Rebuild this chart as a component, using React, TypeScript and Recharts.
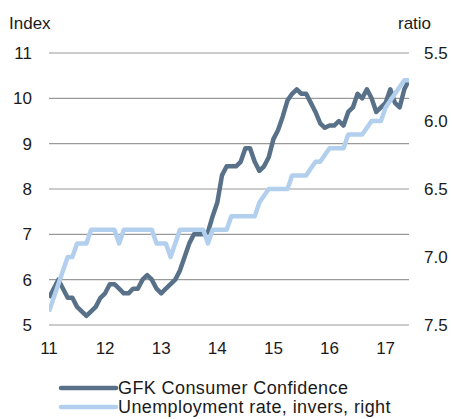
import React from "react";
import { LineChart, Line, XAxis, YAxis, CartesianGrid } from "recharts";

// Monthly observations, Jan 2011 .. Jun 2017
const startYear = 11;
const gfkConfidence = [
  5.6, 5.8, 6.0, 5.8, 5.6, 5.6, 5.4, 5.3, 5.2, 5.3, 5.4, 5.6,
  5.7, 5.9, 5.9, 5.8, 5.7, 5.7, 5.8, 5.8, 6.0, 6.1, 6.0, 5.8,
  5.7, 5.8, 5.9, 6.0, 6.2, 6.5, 6.8, 7.0, 7.0, 7.0, 7.05, 7.4,
  7.7, 8.3, 8.5, 8.5, 8.5, 8.6, 8.9, 8.9, 8.6, 8.4, 8.5, 8.7,
  9.1, 9.3, 9.6, 9.95, 10.1, 10.2, 10.1, 10.1, 9.9, 9.7, 9.45, 9.35,
  9.4, 9.4, 9.5, 9.4, 9.7, 9.8, 10.1, 10.0, 10.2, 10.0, 9.7, 9.8,
  9.9, 10.2, 9.9, 9.8, 10.2, 10.4,
];
const unemploymentRate = [
  7.4, 7.3, 7.2, 7.1, 7.0, 7.0, 6.9, 6.9, 6.9, 6.8, 6.8, 6.8,
  6.8, 6.8, 6.8, 6.9, 6.8, 6.8, 6.8, 6.8, 6.8, 6.8, 6.8, 6.9,
  6.9, 6.9, 7.0, 6.9, 6.8, 6.8, 6.8, 6.8, 6.8, 6.8, 6.9, 6.8,
  6.8, 6.8, 6.8, 6.7, 6.7, 6.7, 6.7, 6.7, 6.7, 6.6, 6.55, 6.5,
  6.5, 6.5, 6.5, 6.5, 6.4, 6.4, 6.4, 6.4, 6.35, 6.3, 6.3, 6.25,
  6.2, 6.2, 6.2, 6.2, 6.1, 6.1, 6.1, 6.1, 6.05, 6.0, 6.0, 6.0,
  5.9, 5.85, 5.8, 5.75, 5.7, 5.7,
];
const xTicks = [11, 12, 13, 14, 15, 16, 17];
const leftTicks = [5, 6, 7, 8, 9, 10, 11];
const rightTicks = [5.5, 6.0, 6.5, 7.0, 7.5];
const seriesNames = ["GFK Consumer Confidence", "Unemployment rate, invers, right"];
const leftTitle = "Index";
const rightTitle = "ratio";

const data = gfkConfidence.map((g, i) => ({
  t: startYear + i / 12,
  gfk: g,
  unemp: unemploymentRate[i],
}));

const DARK = "#587189";
const LIGHT = "#b2d0ee";
const FONT = "'Liberation Sans', Arial, sans-serif";
const TEXT = "#1a1a1a";

export default function App() {
  const tickStyle = { fontSize: 17, fill: TEXT, fontFamily: FONT };
  return (
    <div style={{ position: "absolute", left: 0, top: 0, width: 452, height: 419, background: "#fff" }}>
      <LineChart
        width={452}
        height={419}
        data={data}
        margin={{ top: 53, right: 0, left: 0, bottom: 64 }}
      >
        <CartesianGrid yAxisId="left" vertical={false} stroke="#9a9a9a" strokeWidth={1.2} />
        <XAxis
          dataKey="t"
          type="number"
          domain={[startYear, startYear + (gfkConfidence.length - 1) / 12]}
          ticks={xTicks}
          tickFormatter={(v: number) => String(Math.round(v))}
          axisLine={false}
          tickLine={false}
          tickSize={0}
          tickMargin={17}
          height={30}
          tick={tickStyle}
          interval={0}
          allowDataOverflow
        />
        <YAxis
          yAxisId="left"
          orientation="left"
          domain={[5, 11]}
          ticks={leftTicks}
          axisLine={false}
          tickLine={false}
          tickSize={0}
          tickMargin={17}
          width={49}
          tick={tickStyle}
          interval={0}
        />
        <YAxis
          yAxisId="right"
          orientation="right"
          domain={[5.5, 7.5]}
          reversed
          ticks={rightTicks}
          tickFormatter={(v: number) => v.toFixed(1)}
          axisLine={false}
          tickLine={false}
          tickSize={0}
          tickMargin={15}
          width={43}
          tick={{ ...tickStyle, textAnchor: "start" }}
          interval={0}
        />
        <Line
          yAxisId="left"
          dataKey="gfk"
          stroke={DARK}
          strokeWidth={4.5}
          dot={false}
          isAnimationActive={false}
          strokeLinejoin="round"
        />
        <Line
          yAxisId="right"
          dataKey="unemp"
          stroke={LIGHT}
          strokeWidth={4.5}
          dot={false}
          isAnimationActive={false}
          strokeLinejoin="round"
        />
      </LineChart>
      <svg
        width={452}
        height={419}
        style={{ position: "absolute", left: 0, top: 0, pointerEvents: "none" }}
      >
        <text x={9} y={29} fontSize={17} fill={TEXT} fontFamily={FONT}>{leftTitle}</text>
        <text x={398} y={29} fontSize={17} fill={TEXT} fontFamily={FONT}>{rightTitle}</text>
        <line x1={61} y1={388} x2={116} y2={388} stroke={DARK} strokeWidth={4.5} strokeLinecap="round" />
        <text x={118} y={394} fontSize={18} letterSpacing={0.4} fill={TEXT} fontFamily={FONT}>{seriesNames[0]}</text>
        <line x1={61} y1={407} x2={116} y2={407} stroke={LIGHT} strokeWidth={4.5} strokeLinecap="round" />
        <text x={118} y={413} fontSize={18} letterSpacing={0.4} fill={TEXT} fontFamily={FONT}>{seriesNames[1]}</text>
      </svg>
    </div>
  );
}
